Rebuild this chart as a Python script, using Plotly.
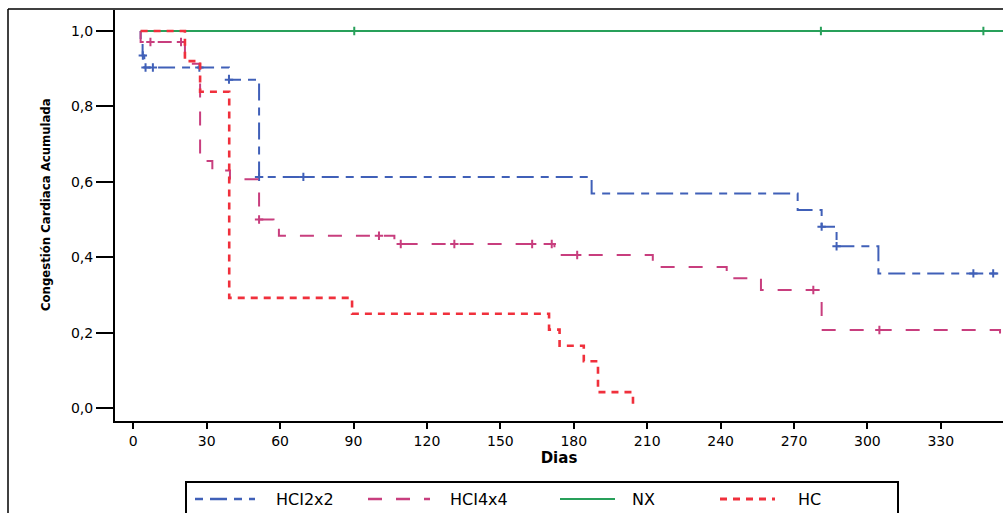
import plotly.graph_objects as go

# ---------------- data ----------------
start_day = 3
end_day = 356

hci2_times = [3, 3.8, 4.5, 39.1, 51.4, 187.3, 271.5, 281.3, 287.4, 304.5]
hci2_levels = [0.968, 0.935, 0.903, 0.871, 0.613, 0.569, 0.525, 0.481, 0.429, 0.357]
hci2_censored = [3.9, 5, 8, 27, 39.1, 51.4, 69.5, 281.3, 287.4, 343.3, 351.4]

hci4_times = [3, 21.1, 27.3, 32.3, 39.5, 51.4, 57.3, 59.5, 106.7, 172.1, 212.3, 242.5, 256.5, 281.3, 354.2]
hci4_levels = [0.971, 0.913, 0.655, 0.630, 0.607, 0.500, 0.478, 0.457, 0.435, 0.406, 0.374, 0.344, 0.313, 0.207, 0.176]
hci4_censored = [7, 19.5, 51.4, 100.4, 109.3, 131.2, 163, 171, 181.4, 277.9, 304.9]

nx_times = []
nx_levels = []
nx_censored = [90.3, 281, 347.4]

hc_times = [21.1, 27.3, 39.2, 89.4, 169.9, 174.2, 184.1, 189.9, 204.2]
hc_levels = [0.920, 0.839, 0.292, 0.250, 0.208, 0.165, 0.124, 0.042, 0.0]
hc_censored = []

groups = ["HCI2x2", "HCI4x4", "NX", "HC"]
x_ticks = list(range(0, 331, 30))
y_ticks = [0.0, 0.2, 0.4, 0.6, 0.8, 1.0]

# ---------------- styling ----------------
W, H = 1003, 513
ML, MR, MT, MB = 115, 0, 10, 92
PW, PH = W - ML - MR, H - MT - MB

def px(x):
    return (x - ML) / PW

def py(y):
    return (H - MB - y) / PH

series = [
    (groups[0], hci2_times, hci2_levels, hci2_censored, end_day, "rgb(64,96,184)", "8px,7px,17px,7px", 2),
    (groups[1], hci4_times, hci4_levels, hci4_censored, end_day, "rgb(200,62,126)", "14px,14px", 2),
    (groups[2], nx_times, nx_levels, nx_censored, end_day, "rgb(40,160,90)", "solid", 1.8),
    (groups[3], hc_times, hc_levels, hc_censored, None, "rgb(240,48,60)", "7px,6px", 2.6),
]

def level_at(times, levels, t):
    cur = 1.0
    for et, lv in zip(times, levels):
        if et <= t:
            cur = lv
    return cur

fig = go.Figure()
for name, times, levels, cens, tend, color, dash, lw in series:
    last = levels[-1] if levels else 1.0
    t_end = tend if tend is not None else times[-1]
    xs = [start_day] + list(times) + [t_end]
    ys = [1.0] + list(levels) + [last]
    fig.add_trace(go.Scatter(
        x=xs, y=ys, mode="lines", line=dict(color=color, width=lw, dash=dash, shape="hv"),
        name=name, showlegend=False, hoverinfo="skip"))
    if cens:
        fig.add_trace(go.Scatter(
            x=cens, y=[level_at(times, levels, t) for t in cens], mode="markers",
            marker=dict(symbol="cross-thin", size=6, line=dict(color=color, width=2)),
            showlegend=False, hoverinfo="skip"))

xmin = (ML - 133.3) / 2.447
xmax = (W - 133.3) / 2.447
ymax = 1 + (31 - MT) / 377
ymin = -(H - MB - 408) / 377

axis_font = dict(family="DejaVu Sans, Liberation Sans, sans-serif", size=14, color="black")
fig.update_layout(
    width=W, height=H, margin=dict(l=ML, r=MR, t=MT, b=MB, pad=0),
    plot_bgcolor="white", paper_bgcolor="white", separators=",.",
    xaxis=dict(range=[xmin, xmax], tickvals=x_ticks, ticks="outside", ticklen=6, tickwidth=2,
               tickcolor="black", showline=True, linewidth=2, linecolor="black",
               showgrid=False, zeroline=False, tickfont=axis_font,
               title=dict(text="<b>Dias</b>", font=dict(family="DejaVu Sans, Liberation Sans", size=15, color="black"), standoff=2)),
    yaxis=dict(range=[ymin, ymax], tickvals=y_ticks, tickformat=".1f", ticks="outside", ticklen=17,
               tickwidth=2, tickcolor="black", showline=True, linewidth=2, linecolor="black",
               showgrid=False, zeroline=False, tickfont=axis_font, title=None),
    showlegend=False,
)

# y axis title
fig.add_annotation(text="<b>Congestión Cardiaca Acumulada</b>", textangle=-90,
                   xref="paper", yref="paper", x=px(45), y=py(205), xanchor="center", yanchor="middle",
                   showarrow=False,
                   font=dict(family="Liberation Sans Narrow, DejaVu Sans Condensed, Arial Narrow", size=13, color="black"))

# outer chart border
fig.add_shape(type="line", xref="paper", yref="paper", x0=px(8), x1=px(8), y0=py(9), y1=py(H + 20),
              line=dict(color="black", width=1.5))
fig.add_shape(type="line", xref="paper", yref="paper", x0=px(8), x1=px(W + 20), y0=py(9), y1=py(9),
              line=dict(color="black", width=1.5))

# legend box and items
fig.add_shape(type="rect", xref="paper", yref="paper", x0=px(186), x1=px(898), y0=py(482), y1=py(H + 20),
              line=dict(color="black", width=2))
legend_pos = [(195, 255, 305), (368, 430, 479), (560, 615, 643), (720, 775, 809)]
ly = 499
for (name, times, levels, cens, tend, color, dash, lw), (sx0, sx1, tx) in zip(series, legend_pos):
    fig.add_shape(type="line", xref="paper", yref="paper", x0=px(sx0), x1=px(sx1), y0=py(ly), y1=py(ly),
                  line=dict(color=color, width=lw + 0.4, dash=dash))
    fig.add_annotation(text=name, xref="paper", yref="paper", x=px(tx), y=py(ly), xanchor="center",
                       yanchor="middle", showarrow=False,
                       font=dict(family="DejaVu Sans, Liberation Sans", size=16, color="black"))

fig.write_html("out.html")
